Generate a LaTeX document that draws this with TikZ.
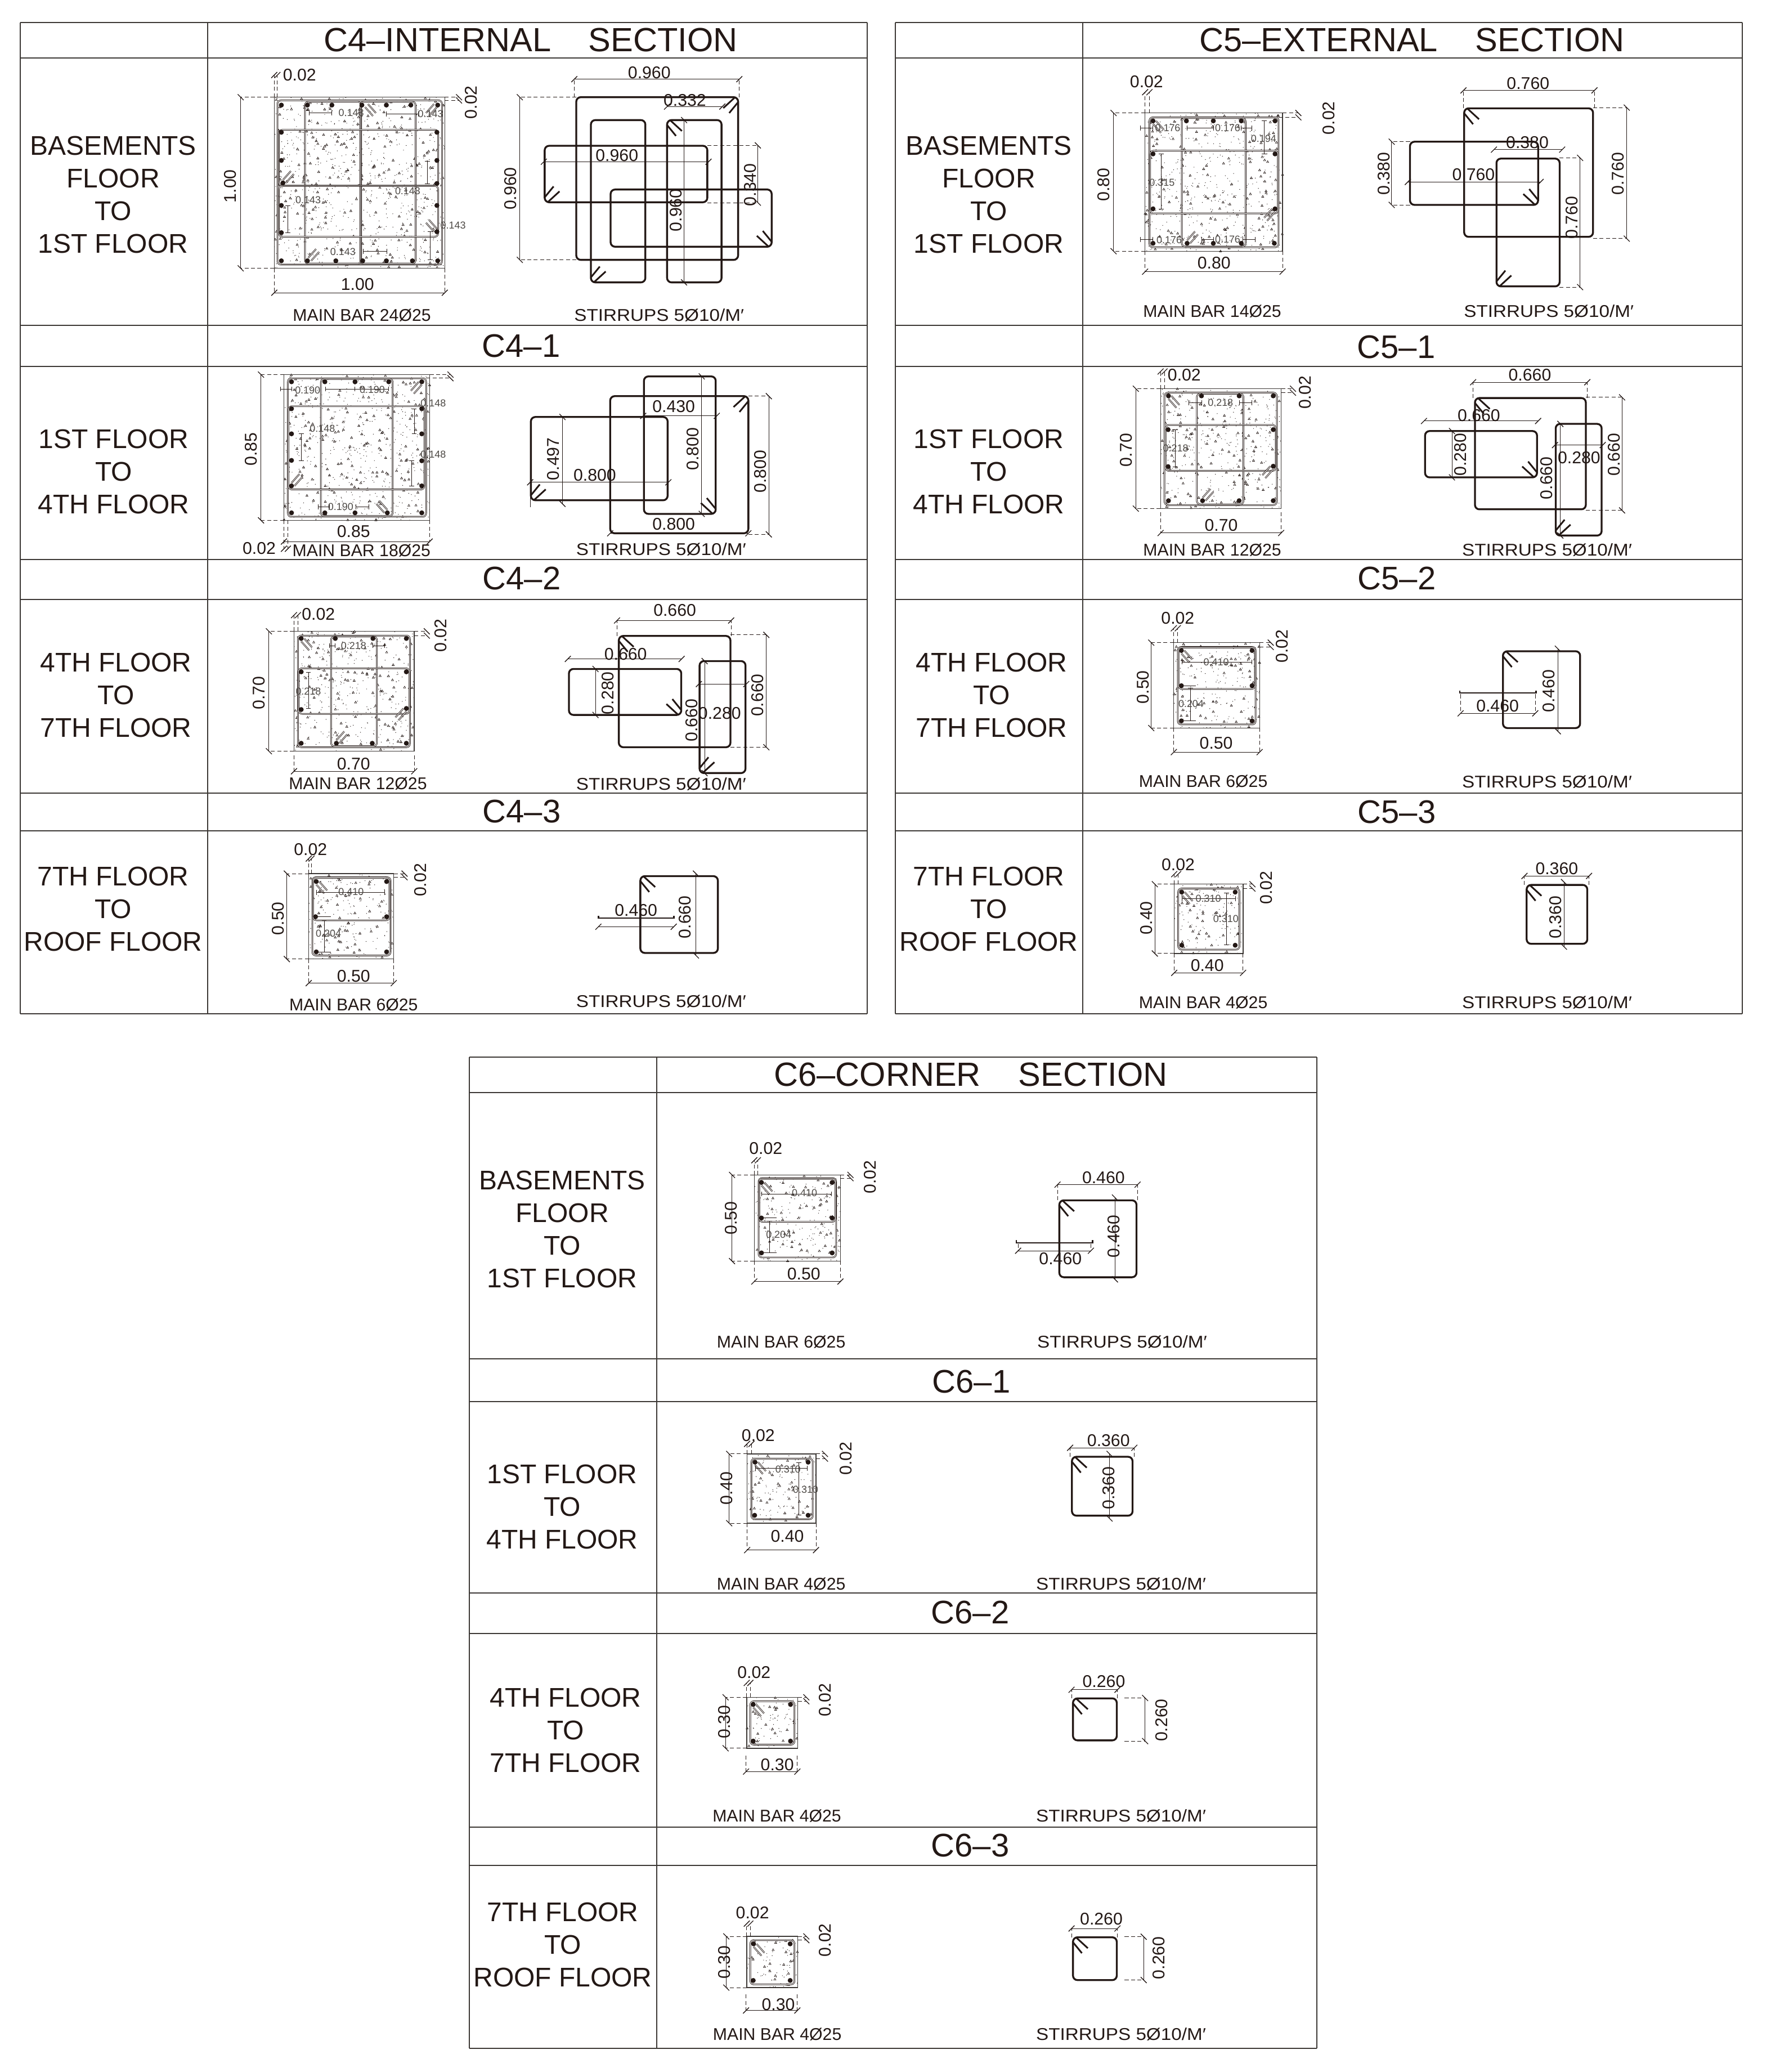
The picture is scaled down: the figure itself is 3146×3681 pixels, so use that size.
\documentclass[tikz,border=0pt]{standalone}
\usepackage{fontspec}
\setmainfont{Liberation Sans}
\definecolor{ink}{HTML}{231815}
\definecolor{linec}{HTML}{3C3835}
\definecolor{smallc}{HTML}{4D4945}
\newcounter{tn}
\tikzset{
 tbl/.style={draw=linec,line width=1.25pt},
 dimline/.style={draw=ink,line width=.55pt},
 extl/.style={draw=ink,line width=.55pt,dash pattern=on 4pt off 2.5pt},
 ticks/.style={draw=ink,line width=.75pt},
 stl/.style={draw=ink,line width=1.9pt,rounded corners=4.5pt},
 hookl/.style={draw=ink,line width=1.7pt},
 outerl/.style={draw=linec,line width=.7pt},
 tie/.style={draw=ink,line width=.5pt,double=white,double distance=.55pt,rounded corners=3.5pt},
 smalll/.style={draw=ink,line width=.45pt},
 txt/.style={inner sep=0pt,text=ink},
 titlef/.style={txt,font=\fontsize{33.9pt}{36pt}\selectfont},
 subf/.style={txt,font=\fontsize{33pt}{36pt}\selectfont},
 bigf/.style={txt,font=\fontsize{27.3pt}{30pt}\selectfont},
 dimf/.style={txt,font=\fontsize{17.2pt}{19pt}\selectfont},
 stirf/.style={txt,xscale=1.1,font=\fontsize{17.2pt}{19pt}\selectfont},
 smallf/.style={txt,text=smallc,font=\fontsize{10.2pt}{11pt}\selectfont},
 zoomframe/.style n args={4}{shift={(#1,#2)},x=0.2mm/#3,y=-0.2mm/#4},
}
\newcommand\Tx[4]{\stepcounter{tn}\node[#3] (t\arabic{tn}) at (#1,#2) {#4};}
\newcommand\Tr[4]{\stepcounter{tn}\node[#3,rotate=90] (t\arabic{tn}) at (#1,#2) {#4};}
\newcommand\tkf[2]{\draw[ticks] (#1,#2) ++(-3pt,-3pt) -- ++(6pt,6pt);}
\newcommand\tkb[2]{\draw[ticks] (#1,#2) ++(-3pt,3pt) -- ++(6pt,-6pt);}
% horizontal dimension: x1 x2 y lx ly label
\newcommand\hd[6]{\draw[dimline] (#1,#3) -- (#2,#3); \tkf{#1}{#3}\tkf{#2}{#3}\Tx{#4}{#5}{dimf}{#6}}
% vertical dimension: x y1 y2 lx ly label
\newcommand\vd[6]{\draw[dimline] (#1,#2) -- (#1,#3); \tkb{#1}{#2}\tkb{#1}{#3}\Tr{#4}{#5}{dimf}{#6}}
% with dashed extensions
\newcommand\hde[7]{\draw[extl] (#1,#4) -- (#1,#3) (#2,#4) -- (#2,#3); \hd{#1}{#2}{#3}{#5}{#6}{#7}}
\newcommand\vde[7]{\draw[extl] (#4,#2) -- (#1,#2) (#4,#3) -- (#1,#3); \vd{#1}{#2}{#3}{#5}{#6}{#7}}
% cover 0.02 at top: x1 x2 y yto lx ly
\newcommand\cvt[6]{\draw[extl] (#1,#4) -- (#1,#3) (#2,#4) -- (#2,#3); \tkf{#1}{#3}\tkf{#2}{#3}\Tx{#5}{#6}{dimf}{0.02}}
% cover 0.02 at right: x y1 y2 xfrom lx ly
\newcommand\cvr[6]{\draw[extl] (#4,#2) -- (#1,#2) (#4,#3) -- (#1,#3); \tkb{#1}{#2}\tkb{#1}{#3}\Tr{#5}{#6}{dimf}{0.02}}
% stirrup and its hook
\newcommand\stp[4]{\draw[stl] (#1,#2) rectangle (#3,#4);}
\newcommand\hk[4]{\draw[hookl] (#1,#2) ++(#3*3pt,0pt) -- ++(#3*12pt,#4*11pt); \draw[hookl] (#1,#2) ++(0pt,#4*5pt) -- ++(#3*9pt,#4*11pt);}
\newcommand\stub[3]{\draw[draw=ink,line width=1.5pt] (#1,#3) ++(0pt,2.5pt) -- (#1,#3) -- (#2,#3) -- ++(0pt,2.5pt);}
% concrete section: outer rect, tie, speckles
\newcommand\colsec[9]{%
 \pgfmathsetseed{#9}%
 \pgfmathtruncatemacro\nnsp{\speckN*1.8}%
 \foreach \i in {1,...,\nnsp}{%
  \pgfmathsetmacro\qx{#1+rnd*(#3-#1)}\pgfmathsetmacro\qy{#2+rnd*(#4-#2)}%
  \pgfmathtruncatemacro\qk{mod(\i,4)}%
  \ifnum\qk=0
   \draw[draw=ink,line width=.38pt] (\qx,\qy) ++(-1.1pt,-.8pt) -- ++(2.2pt,0pt) -- ++(-1.1pt,1.9pt) -- cycle;
  \else
   \fill[ink] (\qx,\qy) circle[radius=.4pt];
  \fi}%
 \draw[outerl] (#1,#2) rectangle (#3,#4);
 \draw[tie] (#5,#6) rectangle (#7,#8);}
\newcommand\ties[4]{\draw[tie] (#1,#2) rectangle (#3,#4);}
\newcommand\bars[1]{\foreach \a/\b in {#1}{\fill[ink] (\a,\b) circle[radius=2.5pt];}}
\newcommand\shk[4]{\draw[tie,rounded corners=0pt] (#1,#2) ++(#3*3pt,0pt) -- ++(#3*8pt,#4*9pt); \draw[tie,rounded corners=0pt] (#1,#2) ++(0pt,#4*3pt) -- ++(#3*8pt,#4*9pt);}
\newcommand\smh[3]{\draw[smalll] (#1,#3) -- (#2,#3) (#1,#3) ++(0pt,-2.5pt) -- ++(0pt,5pt) (#2,#3) ++(0pt,-2.5pt) -- ++(0pt,5pt);}
\newcommand\smv[3]{\draw[smalll] (#1,#2) -- (#1,#3) (#1,#2) ++(-2.5pt,0pt) -- ++(5pt,0pt) (#1,#3) ++(-2.5pt,0pt) -- ++(5pt,0pt);}
\newcommand\smt[3]{\Tx{#1}{#2}{smallf}{#3}}
\newcommand\flab[5]{\Tx{#1}{#2}{bigf}{#3}\Tx{#1}{#2+58}{bigf}{#4}\Tx{#1}{#2+116}{bigf}{#5}}
\def\gap{\hspace{38pt}}
\begin{document}
\begin{tikzpicture}[x=0.2mm,y=-0.2mm]
\useasboundingbox (0,0) rectangle (3146,3681);
\fill[white] (0,0) rectangle (3146,3681);
% ---------- tables
\foreach \xl/\xc/\xr/\ylist in {36/369/1541/{40,103,578,651,994,1065,1409,1476,1801},1591/1924/3096/{40,103,578,651,994,1065,1409,1476,1801},834/1167/2340/{1878,1941,2414,2490,2830,2902,3246,3314,3639}}{
 \foreach \yy in \ylist {\draw[tbl] (\xl,\yy) -- (\xr,\yy);}
}
\draw[tbl] (36,40) -- (36,1801) (369,40) -- (369,1801) (1541,40) -- (1541,1801);
\draw[tbl] (1591,40) -- (1591,1801) (1924,40) -- (1924,1801) (3096,40) -- (3096,1801);
\draw[tbl] (834,1878) -- (834,3639) (1167,1878) -- (1167,3639) (2340,1878) -- (2340,3639);
% ---------- titles
\Tx{943}{71}{titlef}{C4–INTERNAL\gap SECTION}
\Tx{2509}{71}{titlef}{C5–EXTERNAL\gap SECTION}
\Tx{1725}{1909}{titlef}{C6–CORNER\gap SECTION}
\Tx{926}{615}{subf}{C4–1}\Tx{927}{1028}{subf}{C4–2}\Tx{927}{1442}{subf}{C4–3}
\Tx{2481}{617}{subf}{C5–1}\Tx{2482}{1028}{subf}{C5–2}\Tx{2482}{1443}{subf}{C5–3}
\Tx{1726}{2455}{subf}{C6–1}\Tx{1724}{2865}{subf}{C6–2}\Tx{1724}{3278}{subf}{C6–3}
% ---------- floor labels
\Tx{201}{259}{bigf}{BASEMENTS}\flab{201}{317}{FLOOR}{TO}{1ST FLOOR}
\flab{202}{780}{1ST FLOOR}{TO}{4TH FLOOR}
\flab{206}{1177}{4TH FLOOR}{TO}{7TH FLOOR}
\flab{201}{1557}{7TH FLOOR}{TO}{ROOF FLOOR}
\Tx{1757}{259}{bigf}{BASEMENTS}\flab{1757}{317}{FLOOR}{TO}{1ST FLOOR}
\flab{1757}{780}{1ST FLOOR}{TO}{4TH FLOOR}
\flab{1762}{1177}{4TH FLOOR}{TO}{7TH FLOOR}
\flab{1757}{1557}{7TH FLOOR}{TO}{ROOF FLOOR}
\Tx{999}{2097}{bigf}{BASEMENTS}\flab{999}{2155}{FLOOR}{TO}{1ST FLOOR}
\flab{999}{2619}{1ST FLOOR}{TO}{4TH FLOOR}
\flab{1005}{3016}{4TH FLOOR}{TO}{7TH FLOOR}
\flab{1000}{3397}{7TH FLOOR}{TO}{ROOF FLOOR}
% ========== C4 basement
\begin{scope}[zoomframe={340}{90}{1.4255}{3}]
\def\speckN{520}
\colsec{210}{248}{642}{1160}{218}{265}{635}{1140}{11}
\ties{288}{272}{430}{1135}\ties{428}{272}{568}{1135}
\ties{222}{422}{625}{720}\ties{222}{720}{625}{992}
\bars{228/290,294/290,356/290,432/290,494/290,556/290,624/290,228/1120,294/1120,366/1120,434/1120,494/1120,560/1120,624/1120,228/435,228/585,232/705,228/825,228/970,622/435,622/585,622/708,622/825,622/965}
\shk{440}{285}{1}{-1}\shk{622}{285}{-1}{-1}\shk{232}{705}{1}{1}\shk{622}{965}{-1}{1}\shk{296}{1120}{1}{1}
\smh{298}{356}{332}\smh{494}{575}{338}\smv{598}{590}{708}\smv{245}{825}{970}\smv{605}{965}{1115}\smh{435}{495}{1070}
\smt{405}{332}{0.143}\smt{606}{338}{0.143}\smt{548}{748}{0.143}\smt{296}{795}{0.143}\smt{663}{932}{0.143}\smt{384}{1072}{0.143}
\cvt{210}{218}{130}{248}{274}{130}
\vde{125}{248}{1160}{210}{98}{722}{1.00}
\hde{210}{642}{1290}{1160}{421}{1245}{1.00}
\cvr{678}{248}{265}{642}{708}{275}
\Tx{432}{1410}{dimf}{MAIN BAR 24Ø25}\Tx{1185}{1410}{stirf}{STIRRUPS 5Ø10/M′}
\stp{975}{248}{1385}{1115}\hk{1385}{248}{-1}{-1}
\stp{1012}{370}{1150}{1235}\hk{1012}{1235}{1}{1}
\stp{1205}{370}{1343}{1235}\hk{1205}{370}{1}{-1}
\stp{895}{507}{1307}{808}\hk{895}{808}{1}{1}
\stp{1062}{740}{1470}{1045}\hk{1470}{1045}{-1}{1}
\hde{970}{1388}{152}{248}{1160}{118}{0.960}
\hd{1205}{1345}{298}{1250}{265}{0.332}
\vde{832}{248}{1115}{975}{808}{735}{0.960}
\hd{893}{1310}{592}{1078}{557}{0.960}
\vd{1248}{370}{1235}{1228}{850}{0.960}
\vde{1435}{505}{810}{1307}{1415}{715}{0.340}
\end{scope}
% ========== C4-1, C4-2
\begin{scope}[zoomframe={400}{640}{1.568}{1.568}]
\def\speckN{376}
\colsec{164}{40}{570}{446}{175}{50}{560}{436}{21}
\ties{267}{52}{467}{434}\ties{177}{128}{555}{360}
\bars{185/60,278/60,362/60,456/60,548/60,185/425,278/425,362/425,452/425,548/425,185/135,185/205,185/279,185/350,548/135,548/205,548/280,548/350}
\shk{548}{60}{-1}{-1}\shk{185}{350}{1}{1}\shk{452}{425}{-1}{1}
\smh{155}{185}{80}\smh{280}{362}{80}\smh{362}{456}{80}\smv{527}{135}{205}\smv{213}{205}{279}\smv{520}{280}{350}\smh{260}{290}{408}\smh{365}{400}{408}
\smt{230}{84}{0.190}\smt{410}{82}{0.190}\smt{580}{120}{0.148}\smt{271}{190}{0.148}\smt{580}{262}{0.148}\smt{322}{408}{0.190}
\vde{100}{40}{446}{164}{72}{248}{0.85}
\draw[extl] (570,40) -- (628,40) (560,50) -- (628,50);\tkb{628}{40}\tkb{628}{50}
\hde{164}{570}{505}{446}{358}{477}{0.85}
\cvt{164}{175}{525}{446}{95}{524}
\Tx{380}{530}{dimf}{MAIN BAR 18Ø25}\Tx{1215}{527}{stirf}{STIRRUPS 5Ø10/M′}
\stp{1167}{45}{1367}{428}\hk{1367}{428}{-1}{1}
\stp{1073}{100}{1458}{482}\hk{1458}{100}{-1}{-1}
\stp{852}{158}{1233}{390}\hk{852}{390}{1}{1}
\hd{1165}{1370}{155}{1250}{129}{0.430}
\vd{1328}{45}{428}{1303}{247}{0.800}
\vde{1515}{100}{485}{1458}{1492}{310}{0.800}
\vd{940}{158}{400}{915}{275}{0.497}
\hd{850}{1235}{340}{1030}{320}{0.800}
\draw[dimline] (850,340) -- (850,410);
\hd{1073}{1458}{482}{1250}{457}{0.800}
% C4-2
\def\speckN{255}
\colsec{192}{755}{527}{1089}{203}{767}{515}{1078}{22}
\ties{295}{770}{423}{1075}\ties{205}{858}{513}{985}
\bars{212/775,307/775,412/775,505/775,212/1067,310/1067,410/1067,505/1067,212/868,212/973,505/868,505/970}
\shk{212}{775}{1}{-1}\shk{505}{970}{-1}{-1}\shk{310}{1067}{1}{1}
\smh{290}{307}{795}\smh{412}{445}{795}\smv{232}{870}{970}
\smt{358}{796}{0.218}\smt{232}{922}{0.218}
\cvt{192}{203}{710}{755}{260}{708}
\vde{122}{755}{1089}{192}{95}{927}{0.70}
\cvr{562}{755}{767}{527}{600}{767}
\hde{192}{527}{1145}{1100}{358}{1125}{0.70}
\Tx{370}{1180}{dimf}{MAIN BAR 12Ø25}\Tx{1215}{1180}{stirf}{STIRRUPS 5Ø10/M′}
\stp{1097}{768}{1408}{1078}\hk{1097}{768}{1}{-1}
\stp{958}{860}{1271}{988}\hk{1271}{988}{-1}{1}
\stp{1322}{838}{1450}{1150}\hk{1322}{1150}{1}{1}
\hde{1092}{1410}{725}{768}{1253}{697}{0.660}
\hd{955}{1272}{832}{1116}{818}{0.660}
\vd{1032}{860}{988}{1067}{927}{0.280}
\vd{1336}{838}{1150}{1300}{1003}{0.660}
\hd{1320}{1452}{902}{1378}{984}{0.280}
\vde{1508}{765}{1078}{1408}{1483}{933}{0.660}
\end{scope}
% ========== C4-3
\begin{scope}[zoomframe={400}{1450}{1.568}{1.568}]
\def\speckN{130}
\colsec{233}{160}{470}{398}{243}{170}{461}{388}{31}
\ties{245}{172}{458}{290}
\bars{254/182,450/182,252/280,450/280,254/378,450/378}
\shk{254}{182}{1}{-1}
\smh{254}{445}{212}\smv{276}{290}{378}\draw[smalll] (254,280) -- (295,280) (254,378) -- (295,378);
\smt{351}{211}{0.410}\smt{288}{327}{0.204}
\cvt{233}{241}{118}{160}{238}{92}
\vde{172}{160}{398}{233}{148}{285}{0.50}
\cvr{500}{160}{170}{470}{545}{178}
\hde{233}{470}{465}{398}{358}{445}{0.50}
\Tx{358}{525}{dimf}{MAIN BAR 6Ø25}\Tx{1215}{515}{stirf}{STIRRUPS 5Ø10/M′}
\stp{1157}{167}{1373}{381}\hk{1157}{167}{1}{-1}
\stub{1040}{1250}{284}
\hd{1040}{1250}{308}{1145}{262}{0.460}
\vd{1312}{160}{388}{1281}{281}{0.660}
\end{scope}
% ========== C5 basement, C5-1
\begin{scope}[zoomframe={1950}{100}{1.568}{1.568}]
\def\speckN{333}
\colsec{133}{158}{516}{543}{145}{170}{505}{532}{41}
\ties{235}{172}{413}{530}\ties{147}{263}{503}{438}
\bars{155/180,248/180,323/180,401/180,495/180,155/521,250/521,323/521,401/521,493/521,155/272,155/425,495/272,495/425}
\shk{155}{180}{1}{-1}\shk{495}{425}{-1}{-1}\shk{250}{521}{1}{1}
\smh{120}{155}{200}\smh{250}{323}{200}\smh{401}{430}{200}\smv{178}{272}{425}\smv{465}{180}{272}\smh{120}{155}{510}\smh{290}{323}{510}\smh{405}{440}{510}
\smt{196}{199}{0.176}\smt{363}{199}{0.176}\smt{463}{229}{0.194}\smt{180}{352}{0.315}\smt{200}{512}{0.176}\smt{363}{510}{0.176}
\cvt{133}{145}{100}{158}{137}{70}
\vde{45}{158}{543}{133}{17}{358}{0.80}
\draw[extl] (516,158) -- (560,158) (505,170) -- (560,170);\tkb{560}{158}\tkb{560}{170}
\Tr{645}{172}{dimf}{0.02}
\hde{133}{516}{600}{543}{325}{575}{0.80}
\Tx{320}{710}{dimf}{MAIN BAR 14Ø25}\Tx{1258}{710}{stirf}{STIRRUPS 5Ø10/M′}
\stp{1022}{145}{1381}{503}\hk{1022}{145}{1}{-1}
\stp{871}{238}{1228}{414}\hk{1228}{414}{-1}{1}
\stp{1112}{285}{1288}{641}\hk{1112}{641}{1}{1}
\hde{1020}{1385}{95}{145}{1200}{76}{0.760}
\hd{1105}{1295}{260}{1198}{240}{0.380}
\vde{820}{238}{414}{871}{798}{327}{0.380}
\hd{865}{1235}{350}{1048}{330}{0.760}
\vde{1475}{143}{508}{1381}{1450}{327}{0.760}
\vde{1345}{283}{643}{1288}{1322}{450}{0.760}
% C5-1
\def\speckN{255}
\colsec{176}{926}{512}{1260}{187}{937}{500}{1250}{42}
\ties{277}{940}{407}{1248}\ties{190}{1027}{497}{1155}
\bars{198/946,290/946,395/946,490/946,198/1238,293/1238,395/1238,490/1238,197/1040,197/1143,490/1040,490/1142}
\shk{198}{946}{1}{-1}\shk{490}{1142}{-1}{-1}\shk{293}{1238}{1}{1}
\smh{255}{290}{965}\smh{395}{430}{965}\smv{217}{1040}{1143}
\smt{343}{965}{0.218}\smt{218}{1092}{0.218}
\cvt{176}{187}{878}{926}{242}{887}
\vde{107}{926}{1260}{176}{80}{1097}{0.70}
\cvr{545}{926}{937}{512}{578}{937}
\hde{176}{512}{1328}{1270}{345}{1306}{0.70}
\Tx{320}{1375}{dimf}{MAIN BAR 12Ø25}\Tx{1253}{1375}{stirf}{STIRRUPS 5Ø10/M′}
\stp{1052}{952}{1361}{1262}\hk{1052}{952}{1}{-1}
\stp{913}{1044}{1225}{1173}\hk{1225}{1173}{-1}{1}
\stp{1277}{1024}{1405}{1335}\hk{1277}{1335}{1}{1}
\hde{1047}{1365}{908}{952}{1205}{887}{0.660}
\hd{910}{1228}{1016}{1063}{1000}{0.660}
\vd{988}{1044}{1173}{1012}{1110}{0.280}
\vd{1290}{1024}{1335}{1252}{1175}{0.660}
\hd{1275}{1408}{1083}{1342}{1118}{0.280}
\vde{1462}{950}{1265}{1361}{1440}{1110}{0.660}
\end{scope}
% ========== C5-2, C5-3
\begin{scope}[zoomframe={1950}{1060}{1.568}{1.568}]
\def\speckN{130}
\colsec{213}{128}{452}{366}{224}{140}{441}{356}{51}
\ties{226}{142}{439}{257}
\bars{234/150,431/150,234/248,431/248,234/346,431/346}
\shk{234}{150}{1}{-1}
\smh{236}{430}{182}\smv{259}{255}{346}\draw[smalll] (234,248) -- (275,248) (234,346) -- (275,346);
\smt{331}{182}{0.410}\smt{261}{298}{0.204}
\cvt{213}{224}{88}{128}{224}{60}
\vde{150}{128}{366}{213}{127}{252}{0.50}
\cvr{483}{128}{140}{452}{514}{138}
\hde{213}{452}{433}{366}{331}{408}{0.50}
\Tx{295}{515}{dimf}{MAIN BAR 6Ø25}\Tx{1253}{515}{stirf}{STIRRUPS 5Ø10/M′}
\stp{1130}{152}{1345}{366}\hk{1130}{152}{1}{-1}
\stub{1010}{1222}{268}
\hde{1012}{1220}{325}{272}{1115}{305}{0.460}
\vd{1283}{145}{375}{1258}{263}{0.460}
% C5-3
\def\speckN{83}
\colsec{214}{801}{406}{994}{225}{813}{396}{983}{52}
\bars{235/823,384/823,235/971,384/971}
\shk{235}{823}{1}{-1}
\smh{236}{385}{841}\smv{360}{825}{970}
\smt{309}{841}{0.310}\smt{358}{897}{0.310}
\cvt{214}{225}{773}{801}{225}{746}
\vde{160}{801}{994}{214}{137}{895}{0.40}
\cvr{432}{801}{813}{406}{470}{811}
\hde{214}{406}{1048}{994}{306}{1027}{0.40}
\Tx{295}{1130}{dimf}{MAIN BAR 4Ø25}\Tx{1253}{1130}{stirf}{STIRRUPS 5Ø10/M′}
\stp{1196}{803}{1365}{967}\hk{1196}{803}{1}{-1}
\hde{1190}{1370}{778}{803}{1280}{757}{0.360}
\vd{1300}{795}{975}{1277}{893}{0.360}
\end{scope}
% ========== C6 basement
\begin{scope}[zoomframe={1200}{1850}{1.568}{2.613}]
\def\speckN{130}
\colsec{220}{620}{460}{1020}{232}{635}{448}{1003}{61}
\ties{234}{638}{446}{838}
\bars{240/655,437/655,240/820,437/820,240/982,437/982}
\shk{240}{655}{1}{-1}
\smh{240}{435}{708}\smv{263}{835}{980}\draw[smalll] (240,820) -- (282,820) (240,982) -- (282,982);
\smt{360}{703}{0.410}\smt{288}{897}{0.204}
\cvt{220}{230}{552}{620}{252}{497}
\vde{158}{620}{1020}{220}{155}{820}{0.50}
\cvr{488}{620}{635}{460}{542}{630}
\hde{220}{460}{1115}{1020}{358}{1080}{0.50}
\Tx{295}{1395}{dimf}{MAIN BAR 6Ø25}\Tx{1245}{1395}{stirf}{STIRRUPS 5Ø10/M′}
\stp{1070}{738}{1285}{1095}\hk{1070}{738}{1}{-1}
\hde{1065}{1288}{665}{738}{1193}{632}{0.460}
\vd{1225}{725}{1105}{1222}{905}{0.460}
\stub{950}{1163}{935}
\hde{955}{1158}{972}{940}{1073}{1010}{0.460}
\end{scope}
% ========== C6-1, C6-2
\begin{scope}[zoomframe={1230}{2500}{1.568}{1.568}]
\def\speckN{83}
\colsec{153}{130}{345}{323}{165}{143}{336}{312}{71}
\bars{175/153,323/153,174/301,323/301}
\shk{175}{153}{1}{-1}
\smh{176}{320}{170}\smv{297}{155}{300}
\smt{267}{173}{0.310}\smt{316}{229}{0.310}
\cvt{153}{165}{102}{130}{184}{78}
\vde{103}{130}{323}{153}{95}{226}{0.40}
\cvr{370}{130}{143}{345}{428}{143}
\hde{153}{345}{398}{323}{265}{359}{0.40}
\Tx{248}{493}{dimf}{MAIN BAR 4Ø25}\Tx{1195}{493}{stirf}{STIRRUPS 5Ø10/M′}
\stp{1058}{138}{1227}{302}\hk{1058}{138}{1}{-1}
\hde{1053}{1232}{113}{138}{1160}{93}{0.360}
\vd{1163}{130}{310}{1160}{225}{0.360}
% C6-2
\def\speckN{47}
\colsec{152}{808}{294}{950}{162}{819}{285}{940}{72}
\bars{170/828,274/828,170/930,274/930}
\shk{170}{828}{1}{-1}
\cvt{152}{162}{768}{808}{172}{739}
\vde{93}{808}{950}{152}{90}{877}{0.30}
\cvr{318}{808}{819}{294}{370}{816}
\hde{150}{293}{1015}{970}{237}{996}{0.30}
\Tx{236}{1138}{dimf}{MAIN BAR 4Ø25}\Tx{1195}{1138}{stirf}{STIRRUPS 5Ø10/M′}
\stp{1061}{811}{1183}{928}\hk{1061}{811}{1}{-1}
\hde{1057}{1185}{787}{811}{1147}{763}{0.260}
\vde{1262}{810}{930}{1205}{1308}{872}{0.260}
\end{scope}
% ========== C6-3
\begin{scope}[zoomframe={1230}{3330}{1.568}{3}]
\def\speckN{47}
\colsec{152}{330}{294}{603}{162}{350}{285}{586}{81}
\bars{171/370,273/370,170/565,273/565}
\shk{171}{370}{1}{-1}
\cvt{152}{162}{262}{330}{168}{205}
\vde{95}{330}{603}{152}{90}{468}{0.30}
\cvr{318}{330}{350}{294}{370}{350}
\hde{150}{293}{725}{640}{240}{692}{0.30}
\Tx{237}{853}{dimf}{MAIN BAR 4Ø25}\Tx{1195}{853}{stirf}{STIRRUPS 5Ø10/M′}
\stp{1061}{335}{1183}{563}\hk{1061}{335}{1}{-1}
\hde{1057}{1185}{288}{335}{1140}{238}{0.260}
\vde{1258}{332}{563}{1205}{1300}{445}{0.260}
\end{scope}
\end{tikzpicture}
\end{document}
